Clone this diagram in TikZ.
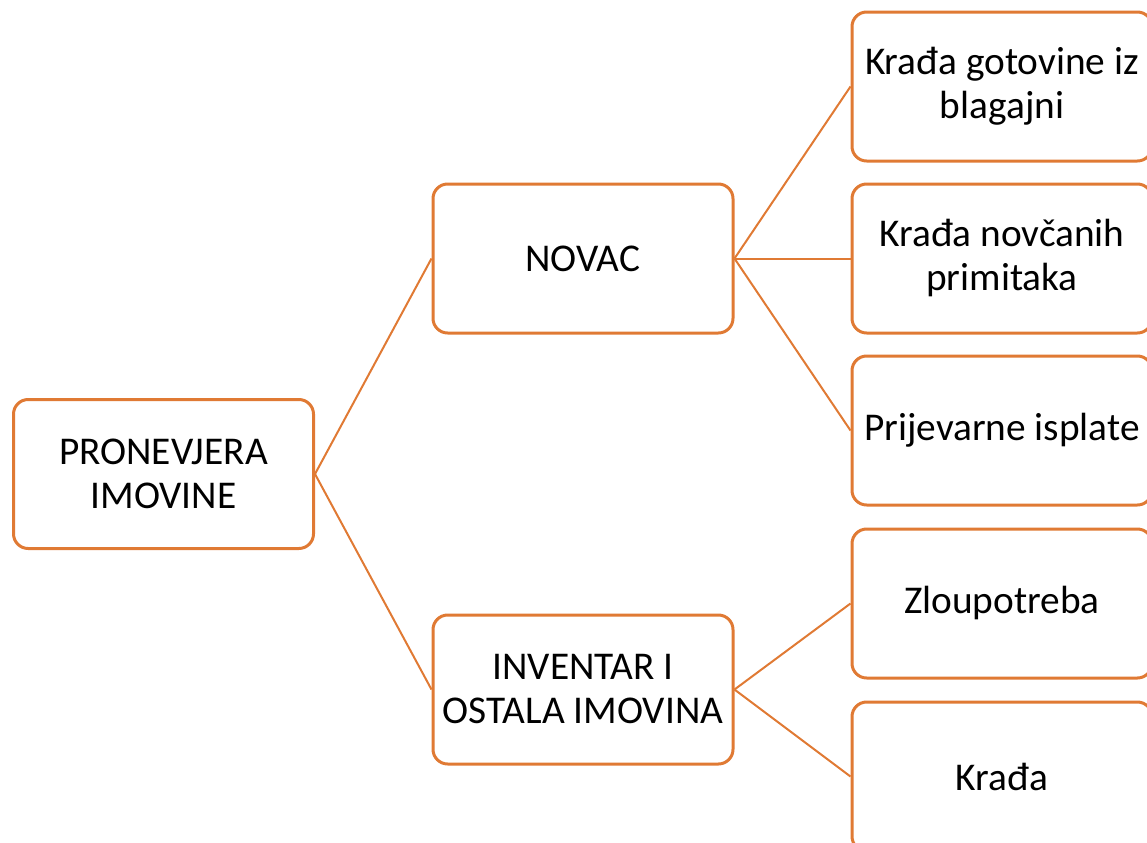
\documentclass[tikz,border=0pt]{standalone}
\usepackage{fontspec}
\setmainfont{Carlito}
\definecolor{boxorange}{RGB}{224,122,52}
\tikzset{
    itembox/.style={draw=boxorange, line width=2.25pt, rounded corners=11pt,
        fill=white, minimum width=225pt, minimum height=111.75pt,
        align=center, font=\fontsize{29.5}{33}\selectfont},
    link/.style={draw=boxorange, line width=1.5pt}
}
\begin{document}
\begin{tikzpicture}[x=0.75pt,y=-0.75pt]
        \useasboundingbox (0,0) rectangle (1147,843);
        \clip (0,0) rectangle (1147,843);
        % lijevo i sredina
        \node[itembox] (imovina) at (163.5,474) {PRONEVJERA\\IMOVINE};
        \node[itembox] (novac) at (583,258.5) {NOVAC};
        \node[itembox] (inventar) at (583,689.5) {INVENTAR I\\OSTALA IMOVINA};
        % desni stupac
        \node[itembox] (gotovina) at (1002,86.5) {Krađa gotovine iz\\blagajni};
        \node[itembox] (primici) at (1002,258.5) {Krađa novčanih\\primitaka};
        \node[itembox] (isplate) at (1002,430.5) {Prijevarne isplate};
        \node[itembox] (zloupotreba) at (1002,603.5) {Zloupotreba};
        \node[itembox] (krada) at (1002,776.5) {Krađa};

        \draw[link] (imovina.east) -- (novac.west);
        \draw[link] (imovina.east) -- (inventar.west);
        \foreach \target in {gotovina,primici,isplate}
            \draw[link] (novac.east) -- (\target.west);
        \foreach \target in {zloupotreba,krada}
            \draw[link] (inventar.east) -- (\target.west);

    \end{tikzpicture}
\end{document}
